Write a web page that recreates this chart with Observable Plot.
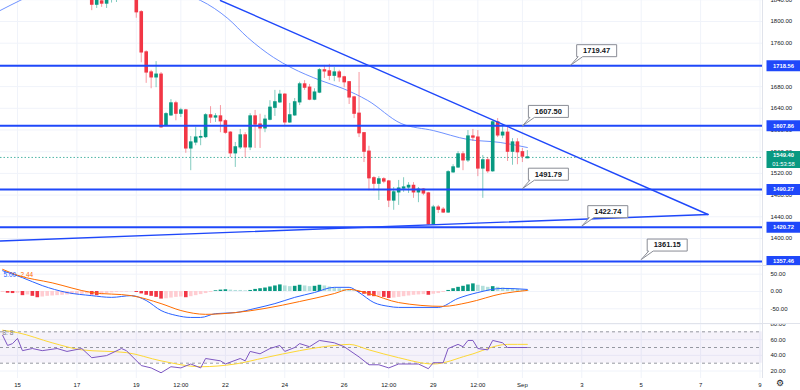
<!DOCTYPE html>
<html><head><meta charset="utf-8">
<script src="https://cdn.jsdelivr.net/npm/d3@7"></script>
<script src="https://cdn.jsdelivr.net/npm/@observablehq/plot@0.6"></script>
<style>
html,body{margin:0;padding:0;background:#fff;}
#wrap{position:relative;width:800px;height:390px;overflow:hidden;background:#fff;font-family:"Liberation Sans",Arial,sans-serif;}
#wrap svg{display:block;}
.sep{position:absolute;background:#e0e3eb;pointer-events:none;}
</style></head><body><div id="wrap"></div>
<script>
// ---------- data ----------
const candleStart = "08-17 12"; // 4h candles
const opens = [1848,1831,1837,1833,1840,1842,1848,1856,1852,1846,
 1817,1743,1706,1697,1702,1608,1627,1649,1630,1636,
 1566,1577,1586,1587,1627,1623,1625,1616,1595,1557,
 1568,1590,1568,1625,1610,1603,1619,1641,1651,1665,
 1614,1627,1651,1684,1678,1656,1669,1710,1708,1700,
 1706,1697,1688,1660,1630,1594,1560,1511,1501,1509,
 1505,1470,1485,1492,1494,1497,1485,1490,1483,1426,
 1457,1453,1448,1522,1531,1555,1544,1588,1586,1529,
 1544,1524,1614,1590,1595,1560,1577,1559,1548];
const highs = [1862,1856,1848,1850,1848,1856,1862,1868,1860,1852,
 1820,1746,1710,1726,1706,1632,1656,1653,1640,1638,
 1588,1605,1599,1630,1643,1630,1645,1619,1597,1577,
 1601,1595,1630,1636,1629,1627,1654,1673,1673,1667,
 1649,1658,1688,1691,1684,1676,1713,1719,1721,1715,
 1710,1699,1689,1662,1706,1595,1570,1514,1514,1512,
 1507,1494,1507,1512,1503,1503,1494,1492,1485,1461,
 1461,1457,1525,1536,1560,1560,1599,1601,1599,1553,
 1549,1617,1621,1610,1608,1584,1584,1566,1562];
const lows = [1820,1824,1826,1824,1834,1835,1842,1848,1842,1806,
 1724,1686,1676,1678,1603,1606,1625,1617,1623,1557,
 1525,1571,1571,1584,1612,1614,1595,1592,1549,1531,
 1564,1549,1562,1566,1566,1595,1617,1625,1649,1606,
 1612,1625,1645,1673,1654,1654,1667,1695,1691,1689,
 1688,1678,1647,1621,1586,1540,1488,1488,1470,1501,
 1457,1452,1461,1485,1483,1474,1466,1479,1424,1424,
 1446,1446,1446,1520,1529,1525,1540,1579,1514,1474,
 1520,1522,1586,1584,1542,1535,1536,1540,1547];
const closes = [1831,1842,1833,1840,1842,1848,1856,1852,1846,1817,
 1743,1706,1697,1702,1605,1629,1649,1630,1636,1566,
 1577,1586,1587,1627,1623,1625,1616,1595,1557,1568,
 1590,1568,1625,1610,1603,1619,1641,1651,1665,1614,
 1627,1651,1684,1678,1656,1669,1710,1708,1700,1706,
 1697,1688,1660,1630,1594,1560,1511,1501,1509,1505,
 1470,1485,1492,1494,1497,1485,1490,1483,1426,1457,
 1453,1448,1522,1531,1555,1544,1588,1586,1529,1544,
 1524,1614,1590,1595,1560,1577,1559,1551,1549.4];

const maLine = [["08-14 10",1820.3],["08-15 02",1838.7],["08-16 00",1862],["08-17 12",1880],["08-19 00",1874],
 ["08-20 12",1852],["08-21 04",1838.7],["08-22 02",1805.5],["08-22 18",1770.5],["08-23 15",1733.6],
 ["08-24 05",1715.2],["08-25 05",1691.2],["08-25 23",1676.5],["08-26 19",1654.4],["08-27 22",1612],
 ["08-29 00",1599],["08-30 04",1582.5],["08-31 06",1577],["09-01 04",1567.7]];

const levelValues = [1718.56, 1607.86, 1490.27, 1420.72, 1357.46];
const calloutLabels = ["1719.47","1607.50","1491.79","1422.74","1361.15"];
const calloutPrices = [1719.47, 1607.50, 1491.79, 1422.74, 1361.15];
const calloutTimes = ["09-02 15","09-01 00","09-01 00","09-03 00","09-05 00"];
const trendDown = [["08-21 20",1838.7],["09-07 06",1444.2]];
const trendUp = [["08-14 10",1395.4],["09-07 06",1444.2]];
const lastPrice = 1549.40;
const countdown = "01:53:58";

const priceTicks = [1400,1440,1480,1520,1560,1600,1640,1680,1720,1760,1800,1840];
const xTickDates = ["08-15 00","08-17 00","08-19 00","08-20 12","08-22 00","08-24 00","08-26 00","08-27 12","08-29 00","08-30 12","09-01 00","09-03 00","09-05 00","09-07 00","09-09 00"];
const xTickLabels = ["15","17","19","12:00","22","24","26","12:00","29","12:00","Sep","3","5","7","9"];

const histStart = "08-14 12"; // 4h bars
const macdHist = [-3,-5,-6,-5,-12,-10,-14,-18,-16,-14,
 -13,-12,-11,-10,-9,-9,-8,-7,-10,-12,
 -10,-6,-4,-3,-2,-2,-1,-3,-7,-11,
 -14,-17,-22,-21,-19,-17,-16,-18,-15,-12,
 -9,-6,-3,2,4,5,4,3,3,2,
 3,6,8,10,13,16,19,16,14,15,
 18,16,14,15,18,16,13,10,8,6,
 4,2,-3,-8,-13,-15,-14,-17,-20,-19,
 -17,-15,-13,-11,-10,-9,-11,-8,-6,-3,
 3,8,12,15,19,22,18,15,12,14,
 12,10,9,8,6,4,2];
const macdLine = [["08-14 12",60],["08-15 04",40],["08-15 20",17],["08-16 16",-3],["08-17 12",-12],["08-18 04",-17],
 ["08-18 20",-12],["08-19 08",-26],["08-19 20",-55],["08-20 08",-69],["08-20 20",-75],["08-21 04",-75],["08-21 16",-64],
 ["08-22 08",-61],["08-23 00",-49],["08-23 16",-35],["08-24 08",-17],["08-25 00",-3],["08-25 16",12],["08-26 04",12],
 ["08-26 12",-3],["08-27 00",-32],["08-27 12",-43],["08-27 20",-46],["08-29 04",-46],["08-29 20",-20],["08-30 12",-3],
 ["08-31 08",9],["09-01 04",6]];
const signalLine = [["08-14 12",64],["08-15 00",47],["08-16 04",25],["08-17 12",-3],["08-18 20",-12],["08-19 20",-35],
 ["08-20 12",-55],["08-21 08",-66],["08-22 08",-61],["08-23 08",-49],["08-24 12",-29],["08-25 16",-6],["08-26 04",6],
 ["08-26 20",-6],["08-27 20",-32],["08-29 08",-43],["08-30 04",-32],["08-31 08",-6],["09-01 04",3]];
const macdTicks = [-50, 0, 50];
const macdLegend = ["5.00", "2.44"];

const rsiLine = [["08-14 12",65.5],["08-14 16",52.6],["08-14 20",55],["08-15 00",61.6],["08-15 04",46],["08-15 12",48.7],
 ["08-15 20",46],["08-16 08",48.7],["08-16 16",45],["08-17 04",48.7],["08-17 12",37],["08-18 00",39.7],["08-18 12",48.7],
 ["08-18 16",46],["08-19 04",27],["08-19 12",24],["08-19 20",17.8],["08-20 04",25.5],["08-20 12",24],["08-20 20",29],
 ["08-21 04",24],["08-21 08",36],["08-21 20",33],["08-22 00",29],["08-22 12",36],["08-22 16",33],["08-22 20",45],
 ["08-23 04",42],["08-23 12",48.7],["08-23 20",52.6],["08-24 00",45],["08-24 08",50],["08-24 12",55],["08-24 20",51],
 ["08-25 04",59],["08-25 16",56],["08-26 00",51],["08-26 12",38],["08-26 20",28],["08-27 04",28],["08-27 12",24],
 ["08-27 20",29],["08-28 12",29],["08-28 20",23],["08-29 00",30.6],["08-29 08",30.6],["08-29 12",48.7],["08-29 20",54],
 ["08-30 00",51],["08-30 04",59],["08-30 08",59],["08-30 12",48.7],["08-30 20",47],["08-31 00",59],["08-31 08",56],
 ["08-31 12",50],["08-31 20",50],["09-01 04",50]];
const rsiMA = [["08-14 12",72],["08-15 00",69],["08-16 04",56],["08-17 04",47],["08-18 16",43.5],["08-19 20",33],
 ["08-21 04",25.5],["08-22 08",29],["08-23 08",37],["08-24 12",46],["08-25 16",52.6],["08-26 04",54],["08-26 20",47],
 ["08-27 20",37],["08-29 00",29],["08-30 04",40],["08-31 12",54],["09-01 04",54]];
const rsiTicks = [20, 40, 60, 80];
const rsiBands = [70, 50, 30];
const rsiLegend = "8. 8";

// ---------- helpers ----------
const T = s => new Date(`2022-${s.replace(" ", "T")}:00Z`);
const H4 = 4 * 3600e3;
const xDomain = [T("08-14 10:16"), T("09-09 02:01")];
const xEnd = () => xDomain[1];
const fmt2 = d => d.toFixed(2);
const font = "'Liberation Sans', Arial, sans-serif";
const blue = "#1f48fa";
const upC = "#089981", dnC = "#f23645";
const gridC = "#f0f3fa";
const xTicks = xTickDates.map(T);
const xLabelMap = new Map(xTicks.map((d, i) => [+d, xTickLabels[i]]));
const pt = d => ({t: T(d[0]), v: d[1]});
// price-axis labels fully hidden under a level tag are not drawn (as on the reference)
const priceAxisTicks = priceTicks.filter(v => !levelValues.some(l => Math.abs(l - v) < 4));

const c0 = T(candleStart);
const candles = opens.map((o, i) => ({t: new Date(+c0 + i * H4), o, h: highs[i], l: lows[i], c: closes[i], up: closes[i] >= o}));
const callouts = calloutLabels.map((label, i) => ({t: T(calloutTimes[i]), p: calloutPrices[i], label}));
const h0 = T(histStart);
const hist = macdHist.map((v, i) => {
  const prev = i > 0 ? macdHist[i - 1] : v;
  const col = v >= 0 ? (v > prev ? upC : "#b2dfdb") : (v < prev ? dnC : "#ffcdd2");
  return {t: new Date(+h0 + i * H4), v, col};
});

// custom pixel shapes (symbols) for callouts and axis tags
const calloutShape = {draw(ctx) {
  ctx.moveTo(6, -8.5); ctx.lineTo(7.5, -8.5); ctx.lineTo(0, 0); ctx.lineTo(12, -8.5);
  ctx.lineTo(46, -8.5); ctx.lineTo(46, -20.5); ctx.lineTo(6, -20.5); ctx.closePath();
}};
const tagShape = {draw(ctx) {
  ctx.moveTo(4, -5.5); ctx.lineTo(38, -5.5); ctx.lineTo(38, 5.5); ctx.lineTo(4, 5.5); ctx.closePath();
}};
const priceTagShape = {draw(ctx) {
  ctx.moveTo(4, -6.5); ctx.lineTo(38, -6.5); ctx.lineTo(38, 10.5); ctx.lineTo(4, 10.5); ctx.closePath();
}};

const baseStyle = {background: "white", fontFamily: font, fontSize: "6px", color: "#131722", overflow: "hidden"};
const wrap = document.getElementById("wrap");
function pane(top, h, svg) {
  const d = document.createElement("div");
  d.style.cssText = `position:absolute;left:0;top:${top}px;width:800px;height:${h}px;overflow:hidden`;
  d.appendChild(svg); wrap.appendChild(d);
}

// ---------- main price pane ----------
const main = Plot.plot({
  width: 800, height: 265, marginLeft: 0, marginRight: 38, marginTop: 0, marginBottom: 0,
  style: baseStyle,
  x: {type: "utc", domain: xDomain, axis: null},
  y: {domain: [1350.2, 1838.7], axis: null},
  marks: [
    Plot.ruleX(xTicks, {stroke: gridC}),
    Plot.ruleY(priceTicks, {stroke: gridC}),
    Plot.axisY(priceAxisTicks, {anchor: "right", tickSize: 0, tickPadding: 8, tickFormat: fmt2, label: null, fontSize: 6, fill: "#131722"}),
    Plot.ruleY([lastPrice], {stroke: upC, strokeOpacity: 0.7, strokeDasharray: "1.5,2"}),
    Plot.line(maLine.map(pt), {x: "t", y: "v", stroke: "#6f92ff", strokeWidth: 1, curve: "monotone-x", clip: true}),
    Plot.ruleX(candles, {x: "t", y1: "l", y2: "h", stroke: d => d.up ? upC : dnC, strokeOpacity: 0.5, clip: true}),
    Plot.ruleX(candles, {x: "t", y1: d => Math.max(d.o, d.c), y2: d => Math.min(d.o, d.c), insetTop: -0.6, insetBottom: -0.6,
      stroke: d => d.up ? upC : dnC, strokeWidth: 3.6, clip: true}),
    Plot.ruleY(levelValues, {stroke: blue, strokeWidth: 2}),
    Plot.line(trendDown.map(pt), {x: "t", y: "v", stroke: blue, strokeWidth: 1.4, clip: true}),
    Plot.line(trendUp.map(pt), {x: "t", y: "v", stroke: blue, strokeWidth: 1.4, clip: true}),
    Plot.dot(callouts, {x: "t", y: "p", symbol: calloutShape, fill: "white", stroke: "#8a8d96", strokeWidth: 1}),
    Plot.text(callouts, {x: "t", y: "p", text: "label", dx: 26, dy: -14.5, fontSize: 7.5, fontWeight: "bold", fill: "#131722"}),
    Plot.dot(levelValues, {x: xEnd, y: d => d, symbol: tagShape, fill: blue}),
    Plot.text(levelValues, {x: xEnd, y: d => d, text: fmt2, dx: 21, fontSize: 5.8, fontWeight: "bold", fill: "white"}),
    Plot.dot([lastPrice], {x: xEnd, y: d => d, symbol: priceTagShape, fill: upC}),
    Plot.text([lastPrice], {x: xEnd, y: d => d, text: fmt2, dx: 21, dy: -2, fontSize: 5.8, fontWeight: "bold", fill: "white"}),
    Plot.text([lastPrice], {x: xEnd, y: d => d, text: () => countdown, dx: 21, dy: 6.5, fontSize: 5.8, fill: "white"})
  ]
});
pane(0, 265, main);

// ---------- MACD pane ----------
const macd = Plot.plot({
  width: 800, height: 58, marginLeft: 0, marginRight: 38, marginTop: 0, marginBottom: 0,
  style: baseStyle,
  x: {type: "utc", domain: xDomain, axis: null},
  y: {domain: [-92.5, 75.1], axis: null},
  marks: [
    Plot.ruleX(xTicks, {stroke: gridC}),
    Plot.ruleY(macdTicks, {stroke: gridC}),
    Plot.axisY(macdTicks, {anchor: "right", tickSize: 0, tickPadding: 8, tickFormat: fmt2, label: null, fontSize: 6, fill: "#131722"}),
    Plot.ruleX(hist, {x: "t", y1: 0, y2: "v", stroke: "col", strokeWidth: 3.6}),
    Plot.line(macdLine.map(pt), {x: "t", y: "v", stroke: "#2962ff", strokeWidth: 1, curve: "monotone-x"}),
    Plot.line(signalLine.map(pt), {x: "t", y: "v", stroke: "#ff6d00", strokeWidth: 1, curve: "monotone-x"}),
    Plot.text([macdLegend[0]], {frameAnchor: "top-left", dx: 3, dy: 7, text: d => d, textAnchor: "start", fill: "#2962ff", fontSize: 6.5}),
    Plot.text([macdLegend[1]], {frameAnchor: "top-left", dx: 20, dy: 7, text: d => d, textAnchor: "start", fill: "#ff6d00", fontSize: 6.5})
  ]
});
pane(265, 58, macd);

// ---------- RSI pane + time axis ----------
const rsi = Plot.plot({
  width: 800, height: 67, marginLeft: 0, marginRight: 38, marginTop: 0, marginBottom: 12,
  style: baseStyle,
  x: {type: "utc", domain: xDomain, axis: null},
  y: {domain: [10.5, 80.6], axis: null},
  marks: [
    Plot.ruleX(xTicks, {stroke: gridC}),
    Plot.ruleY(rsiTicks, {stroke: gridC}),
    Plot.rect([0], {x1: () => xDomain[0], x2: () => xDomain[1], y1: () => 30, y2: () => 70, fill: "#7e57c2", fillOpacity: 0.08}),
    Plot.ruleY(rsiBands, {stroke: "#9598a1", strokeDasharray: "3,3"}),
    Plot.axisY(rsiTicks, {anchor: "right", tickSize: 0, tickPadding: 8, tickFormat: fmt2, label: null, fontSize: 6, fill: "#131722"}),
    Plot.line(rsiMA.map(pt), {x: "t", y: "v", stroke: "#fdd835", strokeWidth: 1, curve: "monotone-x"}),
    Plot.line(rsiLine.map(pt), {x: "t", y: "v", stroke: "#7e57c2", strokeWidth: 1}),
    Plot.text([rsiLegend], {frameAnchor: "top-left", dx: 2, dy: 7, text: d => d, textAnchor: "start", fill: "#787b86", fontSize: 6.5}),
    Plot.axisX(xTicks, {anchor: "bottom", tickSize: 0, tickPadding: 4, tickFormat: d => xLabelMap.get(+d), label: null, fontSize: 6, fill: "#131722"}),
    Plot.text(["\u2699"], {frameAnchor: "bottom-right", dx: 21, dy: 7, text: d => d, fontSize: 9, fill: "#131722"})
  ]
});
pane(323, 67, rsi);

// separators
[[0, 265, 800, 1], [0, 323, 800, 1], [762, 0, 1, 378]].forEach(([l, t, w, h]) => {
  const s = document.createElement("div"); s.className = "sep";
  s.style.cssText += `left:${l}px;top:${t}px;width:${w}px;height:${h}px;`;
  wrap.appendChild(s);
});
</script></body></html>
